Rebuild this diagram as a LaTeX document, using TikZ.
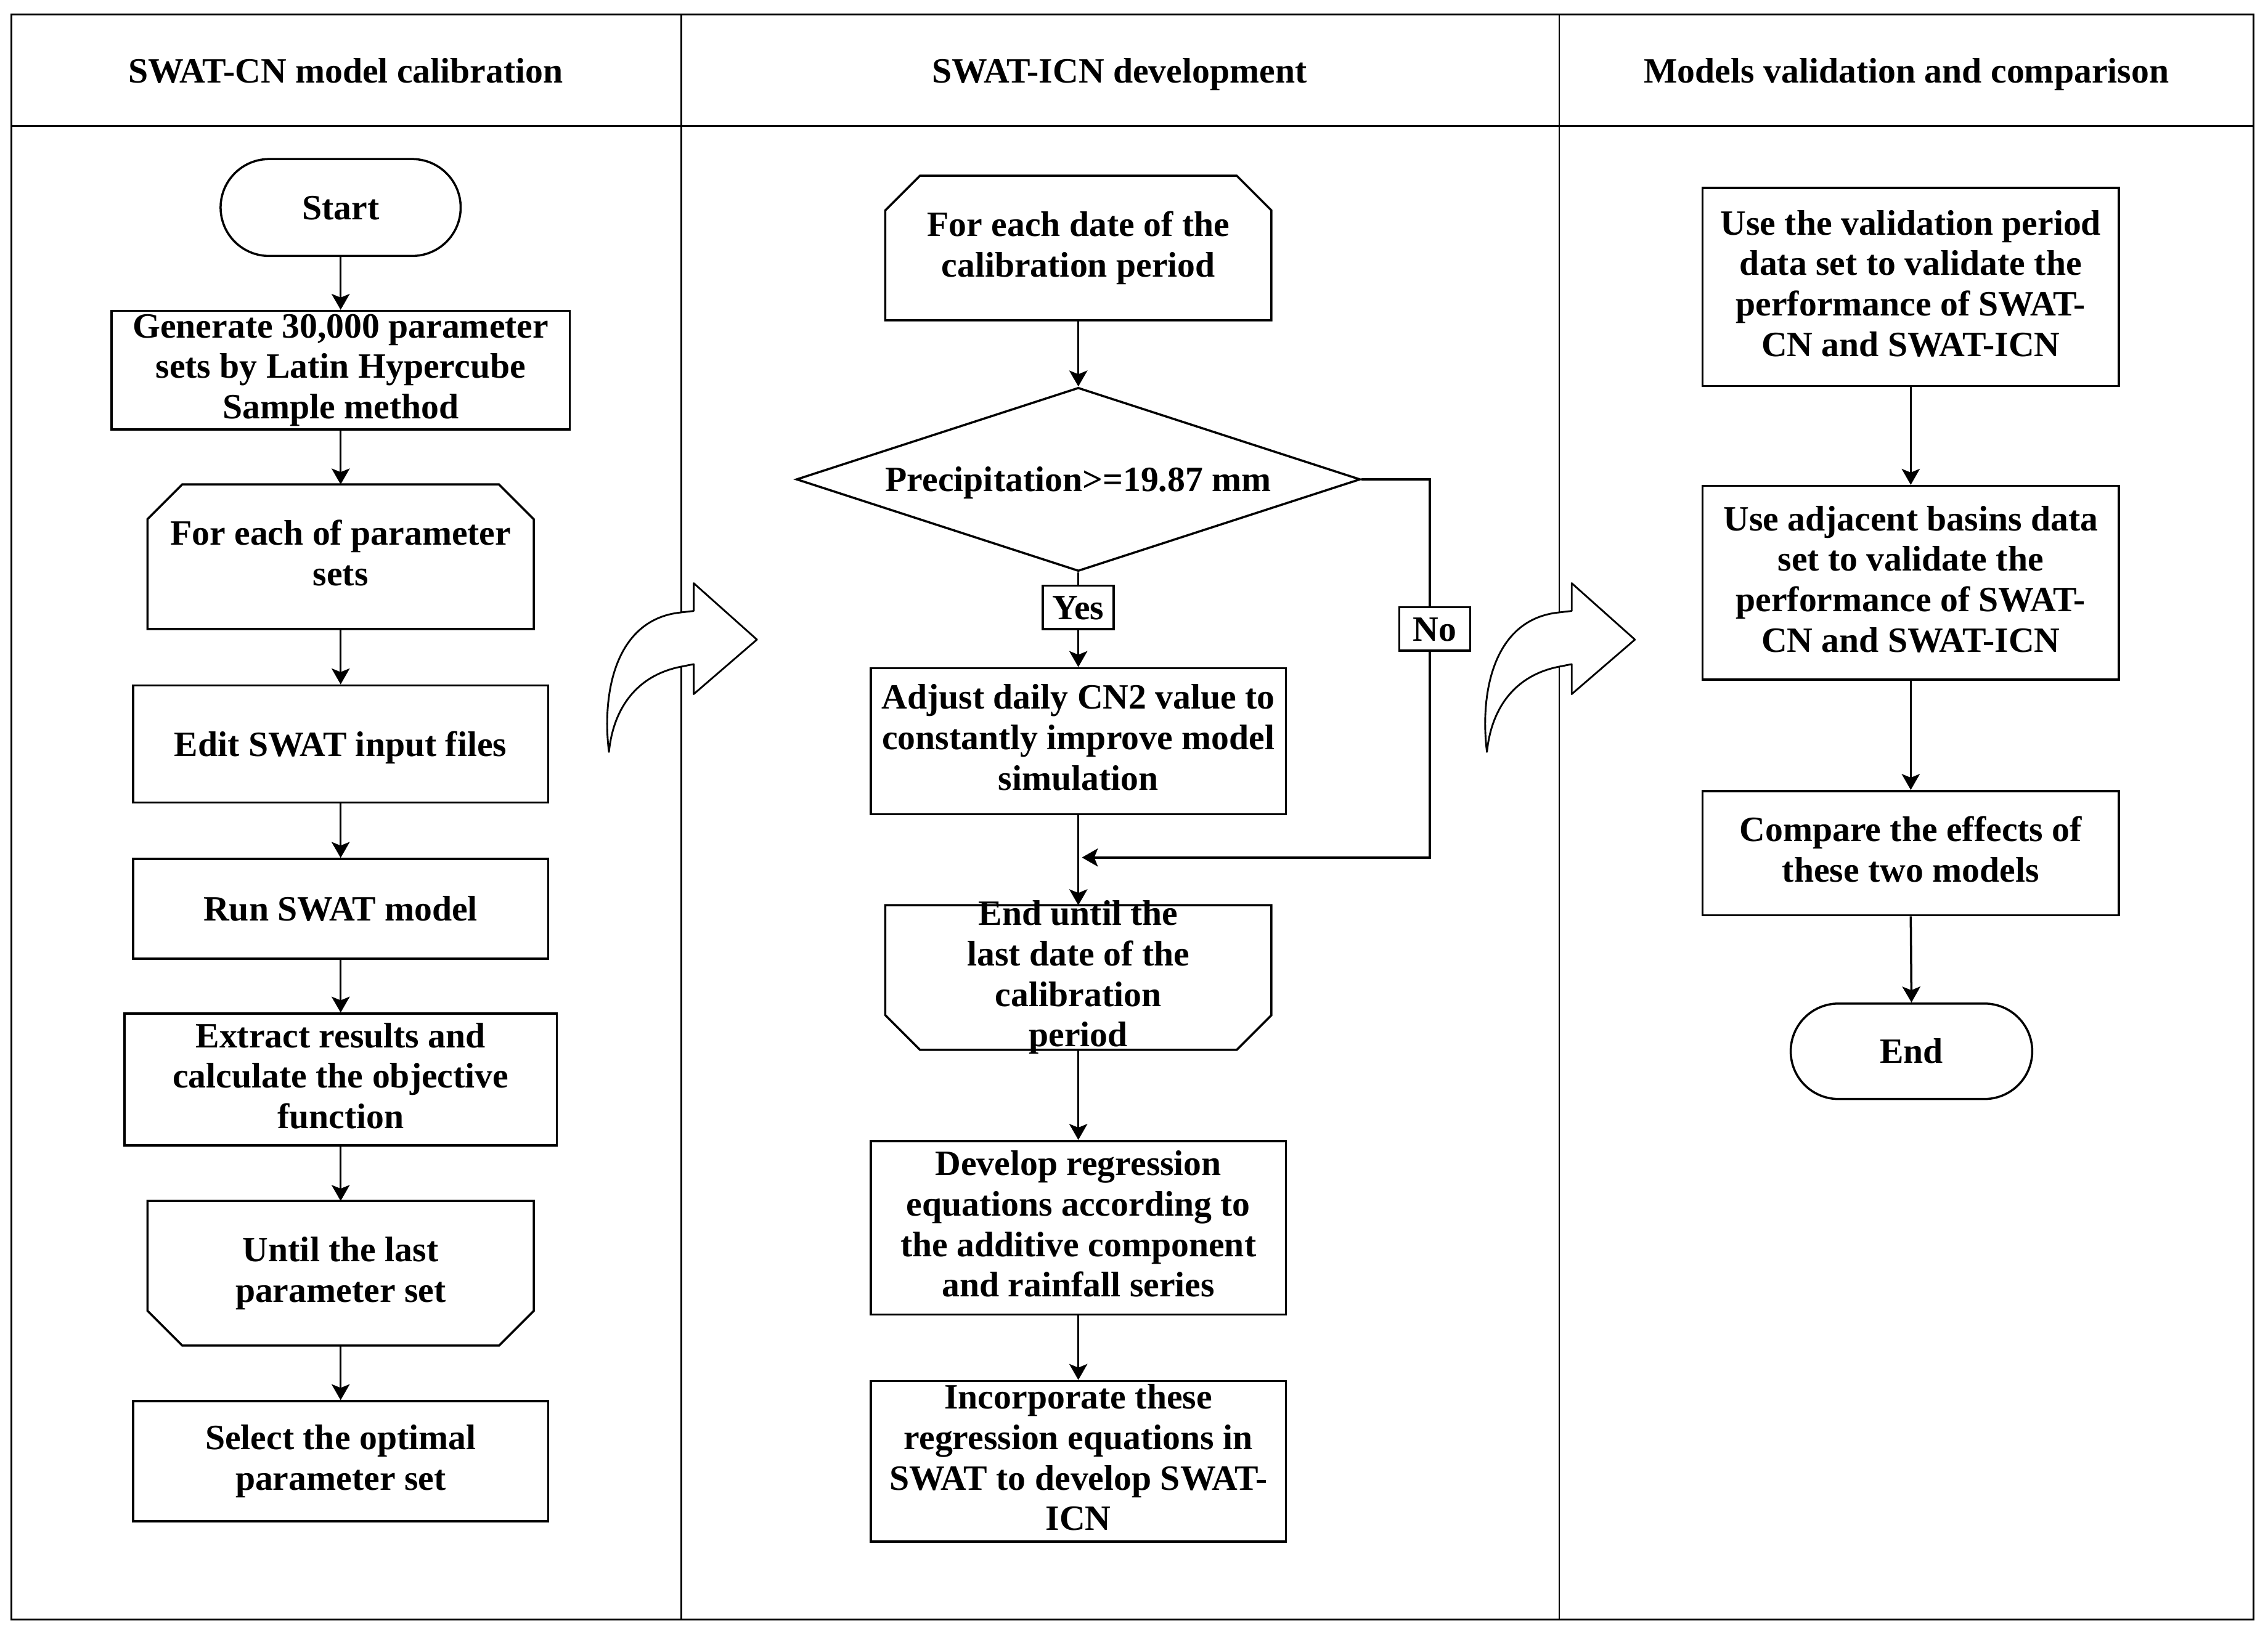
\documentclass[tikz,border=0pt]{standalone}
\usepackage{fontspec}
\setmainfont{Liberation Serif}
\usetikzlibrary{arrows.meta,shapes.geometric,shapes.misc}

\begin{document}
\begin{tikzpicture}[x=0.02cm,y=-0.02cm,
  font=\fontsize{14}{15.94}\selectfont\bfseries,
  every node/.style={execute at begin node={\rule[-0.216em]{0pt}{1.107em}},execute at end node={\rule[-0.216em]{0pt}{1.107em}}},
  box/.style={draw,line width=0.85pt,inner sep=0pt,align=center,minimum width=5.74cm},
  loopbox/.style={inner sep=0pt,align=center,minimum width=5.34cm,minimum height=2cm},
  term/.style={draw,line width=0.85pt,rounded rectangle,inner sep=0pt,minimum width=3.32cm,minimum height=1.34cm},
  tag/.style={draw,fill=white,line width=0.85pt,inner sep=0pt,minimum width=0.98cm,minimum height=0.6cm},
  flow/.style={-{Stealth[length=2.2mm,width=2.5mm,inset=0.5mm]},line width=0.85pt}]
\useasboundingbox (0,0) rectangle (1568,1129.6);
% frame and columns
\draw[line width=0.7pt] (8,10) rectangle (1558,1120);
\draw[line width=0.7pt] (8,87) -- (1558,87);
\draw[line width=0.7pt] (471,10) -- (471,1120);
\draw[line width=0.7pt] (1078,10) -- (1078,1120);
\node (head1) at (239,49) {SWAT-CN model calibration};
\node (head2) at (774,49) {SWAT-ICN development};
\node (head3) at (1318,49) {Models validation and comparison};
% curved arrows between columns
\foreach \dx in {0,607}
  \draw[line width=0.7pt,fill=white,line join=round,shift={(\dx,0)}] (421,520) .. controls (416,480) and (425,428) .. (471,423.5) -- (479.6,422.5) -- (479.6,403.3) -- (523.3,442.3) -- (479.6,480) -- (479.6,459.3) -- (471,461) .. controls (440,467) and (424,490) .. (421,520) -- cycle;
% SWAT-CN calibration
\node[term] (start) at (235.5,143.5) {Start};
\node[box,minimum width=6.34cm,minimum height=1.64cm] (gen) at (235.5,256) {Generate 30,000 parameter\\sets by Latin Hypercube\\Sample method};
\node[loopbox] (eachset) at (235.5,385) {For each of parameter\\sets};
\node[box,minimum height=1.62cm] (edit) at (235.5,514.5) {Edit SWAT input files};
\node[box,minimum height=1.38cm] (run) at (235.5,628.5) {Run SWAT model};
\node[box,minimum width=5.98cm,minimum height=1.82cm] (extract) at (235.5,746.5) {Extract results and\\calculate the objective\\function};
\node[loopbox] (lastset) at (235.5,880.5) {Until the last\\parameter set};
\node[box,minimum height=1.66cm] (select) at (235.5,1010.5) {Select the optimal\\parameter set};
% SWAT-ICN development
\node[loopbox] (eachdate) at (745.5,171.5) {For each date of the\\calibration period};
\node[diamond,draw,line width=0.85pt,aspect=3.07,inner sep=0pt,minimum width=7.8cm,minimum height=2.54cm] (rain) at (745.5,331.5) {Precipitation>=19.87 mm};
\node[tag] (yes) at (745.5,420) {Yes};
\node[box,minimum height=2.02cm] (adjust) at (745.5,512.5) {Adjust daily CN2 value to\\constantly improve model\\simulation};
\node[loopbox] (lastdate) at (745.5,676) {End until the\\last date of the\\calibration\\period};
\node[box,minimum height=2.4cm] (develop) at (745.5,849) {Develop regression\\equations according to\\the additive component\\and rainfall series};
\node[box,minimum height=2.22cm] (incorp) at (745.5,1010.5) {Incorporate these\\regression equations in\\SWAT to develop SWAT-\\ICN};
\node[tag,minimum width=0.98cm] (no) at (992,435) {No};
\coordinate (turn) at (988.5,593);
\coordinate (merge) at (748,593);
% validation and comparison
\node[box,minimum width=5.76cm,minimum height=2.74cm] (useval) at (1321,198.5) {Use the validation period\\data set to validate the\\performance of SWAT-\\CN and SWAT-ICN};
\node[box,minimum width=5.76cm,minimum height=2.68cm] (useadj) at (1321,403) {Use adjacent basins data\\set to validate the\\performance of SWAT-\\CN and SWAT-ICN};
\node[box,minimum width=5.76cm,minimum height=1.72cm] (compare) at (1321,590) {Compare the effects of\\these two models};
\node[term,minimum width=3.34cm,minimum height=1.32cm] (finish) at (1321.5,727) {End};
% loop limit outlines
\foreach \n in {eachset,eachdate} {
  \draw[line width=0.85pt] ([shift={(-133.5,50)}]\n.center) -- ([shift={(-133.5,-26)}]\n.center) -- ([shift={(-109.5,-50)}]\n.center) -- ([shift={(109.5,-50)}]\n.center) -- ([shift={(133.5,-26)}]\n.center) -- ([shift={(133.5,50)}]\n.center) -- cycle;
  \coordinate (\n-in) at ([shift={(0,-50)}]\n.center);
  \coordinate (\n-out) at ([shift={(0,50)}]\n.center);
}
\foreach \n in {lastset,lastdate} {
  \draw[line width=0.85pt] ([shift={(-133.5,-50)}]\n.center) -- ([shift={(133.5,-50)}]\n.center) -- ([shift={(133.5,26)}]\n.center) -- ([shift={(109.5,50)}]\n.center) -- ([shift={(-109.5,50)}]\n.center) -- ([shift={(-133.5,26)}]\n.center) -- cycle;
  \coordinate (\n-in) at ([shift={(0,-50)}]\n.center);
  \coordinate (\n-out) at ([shift={(0,50)}]\n.center);
}
% connectors
\foreach \a/\b in {start.south/gen.north,gen.south/eachset-in,eachset-out/edit.north,edit.south/run.north,run.south/extract.north,extract.south/lastset-in,lastset-out/select.north,eachdate-out/rain.north,yes.south/adjust.north,adjust.south/lastdate-in,lastdate-out/develop.north,develop.south/incorp.north,useval.south/useadj.north,useadj.south/compare.north,compare.south/finish.north}
  \draw[flow] (\a) -- (\b);
\draw[line width=0.85pt] (rain.south) -- (yes.north);
\draw[line width=0.85pt] (rain.east) -| (no.north -| turn);
\draw[flow] (no.south -| turn) -- (turn) -- (merge);
\end{tikzpicture}
\end{document}
